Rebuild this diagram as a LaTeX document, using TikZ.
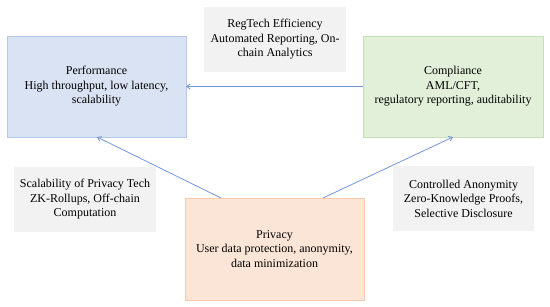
\documentclass[tikz,border=0pt]{standalone}
\usepackage{fontspec}
\setmainfont{Liberation Serif}
\usetikzlibrary{arrows.meta}
\definecolor{perfFill}{HTML}{DAE3F3}
\definecolor{perfDraw}{HTML}{B4C7E7}
\definecolor{compFill}{HTML}{E2F0D9}
\definecolor{compDraw}{HTML}{C5E0B4}
\definecolor{privFill}{HTML}{FBE5D6}
\definecolor{privDraw}{HTML}{F8CBAD}
\definecolor{noteFill}{HTML}{F2F2F2}
\definecolor{arrowCol}{HTML}{7395DA}
\tikzset{
  x=1pt, y=-1pt,
  txt/.style={font=\fontsize{12}{14.5}\selectfont, align=center, inner sep=0pt},
  mainbox/.style={draw=#1Draw, fill=#1Fill, line width=0.7pt},
  notebox/.style={fill=noteFill},
  conn/.style={draw=arrowCol, line width=0.8pt, -{Straight Barb[length=3.5pt,width=5pt]}},
}
\begin{document}
\begin{tikzpicture}
\useasboundingbox (0,0) rectangle (550,307);
% boxes
\path[mainbox=perf] (7,36) rectangle (186,137);
\node[txt] (perf) at (96.5,86.5) {Performance\\High throughput, low latency,\\scalability};
\coordinate (perfR) at (186,86.5);
\coordinate (perfB) at (97,137);

\path[mainbox=comp] (363,36) rectangle (543,137);
\node[txt] (comp) at (453,86.5) {Compliance\\AML/CFT,\\regulatory reporting, auditability};
\coordinate (compL) at (363,86.5);
\coordinate (compB) at (453,137);

\path[mainbox=priv] (185,198) rectangle (364,300);
\node[txt] (priv) at (274.5,249) {Privacy\\User data protection, anonymity,\\data minimization};
\coordinate (privTL) at (221,198);
\coordinate (privTR) at (323,198);

\path[notebox] (204,7) rectangle (346,72);
\node[txt] (regtech) at (275,39.5) {RegTech Efficiency\\Automated Reporting, On-\\chain Analytics};

\path[notebox] (14,167) rectangle (156,232);
\node[txt] (scal) at (85,199.5) {Scalability of Privacy Tech\\ZK-Rollups, Off-chain\\Computation};

\path[notebox] (393,166) rectangle (534,231);
\node[txt] (anon) at (463.5,198.5) {Controlled Anonymity\\Zero-Knowledge Proofs,\\Selective Disclosure};

% connectors
\draw[conn] (compL) -- (perfR);
\draw[conn] (privTL) -- (perfB);
\draw[conn] (privTR) -- (compB);
\end{tikzpicture}
\end{document}
